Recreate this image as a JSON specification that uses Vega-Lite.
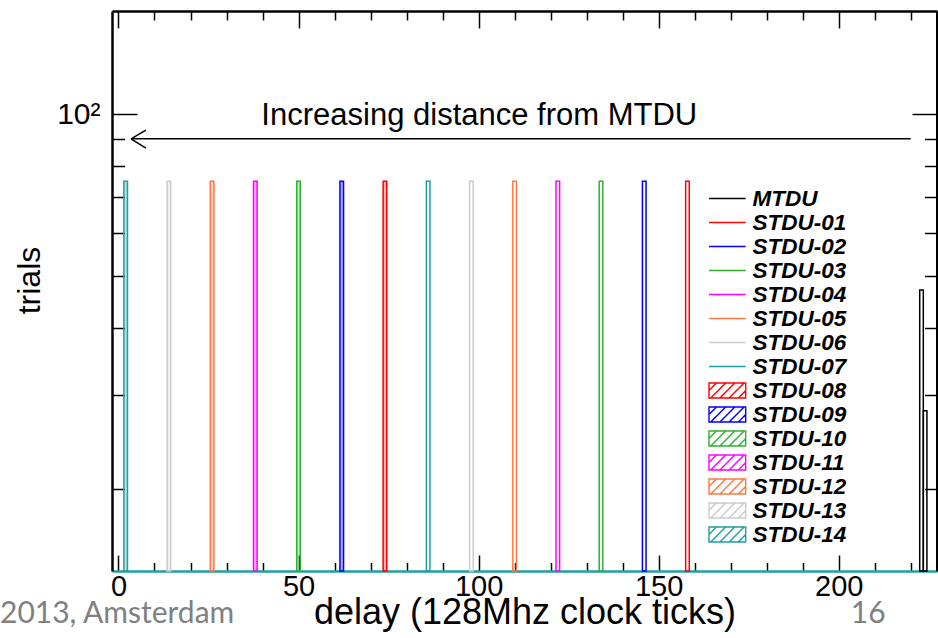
{
  "$schema": "https://vega.github.io/schema/vega-lite/v6.json",
  "width": 825,
  "height": 560,
  "autosize": "none",
  "padding": {"left": 112, "top": 11, "right": 1, "bottom": 67},
  "background": "white",
  "config": {
    "view": {"stroke": null},
    "font": "Liberation Sans",
    "axis": {"labelFont": "Liberation Sans", "titleFont": "Liberation Sans", "labelColor": "black", "titleColor": "black", "titleFontWeight": "normal", "grid": false, "tickColor": "black", "tickWidth": 1.5, "labelFlush": false, "labelOverlap": false}
  },
  "datasets": {
    "hist": [
      {"series": "MTDU", "start": 222.5, "end": 223.5, "trials": 47},
      {"series": "MTDU", "start": 223.5, "end": 224.5, "trials": 28},
      {"series": "STDU-01", "start": 157.5, "end": 158.5, "trials": 75},
      {"series": "STDU-02", "start": 145.5, "end": 146.5, "trials": 75},
      {"series": "STDU-03", "start": 133.5, "end": 134.5, "trials": 75},
      {"series": "STDU-04", "start": 121.5, "end": 122.5, "trials": 75},
      {"series": "STDU-05", "start": 109.5, "end": 110.5, "trials": 75},
      {"series": "STDU-06", "start": 97.5, "end": 98.5, "trials": 75},
      {"series": "STDU-07", "start": 85.5, "end": 86.5, "trials": 75},
      {"series": "STDU-08", "start": 73.5, "end": 74.5, "trials": 75},
      {"series": "STDU-09", "start": 61.5, "end": 62.5, "trials": 75},
      {"series": "STDU-10", "start": 49.5, "end": 50.5, "trials": 75},
      {"series": "STDU-11", "start": 37.5, "end": 38.5, "trials": 75},
      {"series": "STDU-12", "start": 25.5, "end": 26.5, "trials": 75},
      {"series": "STDU-13", "start": 13.5, "end": 14.5, "trials": 75},
      {"series": "STDU-14", "start": 1.5, "end": 2.5, "trials": 75}
    ]
  },
  "layer": [
    {
      "data": {"name": "hist"},
      "mark": {"type": "rect", "strokeWidth": 1.5},
      "encoding": {
        "x": {"field": "start", "type": "quantitative", "scale": {"domain": [-1.8, 227.3], "nice": false, "zero": false},
          "axis": {"orient": "bottom", "values": [0,10,20,30,40,50,60,70,80,90,100,110,120,130,140,150,160,170,180,190,200,210,220],
            "labelExpr": "datum.value % 50 === 0 ? datum.label : ''",
            "tickSize": {"condition": {"test": "datum.value % 50 === 0", "value": -16}, "value": -8.5},
            "domainColor": "#1f9f9f", "domainWidth": 2.5, "labelFontSize": 29, "labelPadding": 17,
            "title": "delay (128Mhz clock ticks)", "titleFontSize": 36, "titlePadding": -13}},
        "x2": {"field": "end"},
        "y": {"field": "trials", "type": "quantitative", "scale": {"type": "log", "domain": [14.07, 155.8], "nice": false},
          "axis": {"orient": "left", "values": [20,30,40,50,60,70,80,90,100],
            "labelExpr": "datum.value === 100 ? '10²' : ''",
            "tickSize": {"condition": {"test": "datum.value === 100", "value": -25}, "value": -12.5},
            "domainColor": "black", "domainWidth": 2.5, "labelFontSize": 30, "labelPadding": 37,
            "title": "trials", "titleFontSize": 32, "titlePadding": 10, "titleY": 269}},
        "y2": {"datum": 14.07},
        "stroke": {"field": "series", "type": "nominal",
          "scale": {"domain": ["MTDU","STDU-01","STDU-02","STDU-03","STDU-04","STDU-05","STDU-06","STDU-07","STDU-08","STDU-09","STDU-10","STDU-11","STDU-12","STDU-13","STDU-14"],
            "range": ["#000000","#ff0000","#0000ff","#30b030","#ff00ff","#ff7744","#cccccc","#1f9f9f","#ff0000","#0000ff","#30b030","#ff00ff","#ff7744","#cccccc","#1f9f9f"]},
          "legend": {"orient": "none", "legendX": 596, "legendY": 175, "title": null, "padding": 0, "rowPadding": 0,
            "symbolSize": 529, "symbolStrokeWidth": 1.5, "symbolFillColor": "transparent",
            "labelFont": "Liberation Sans", "labelFontSize": 22.5, "labelFontWeight": "bold", "labelFontStyle": "italic", "labelColor": "black", "labelOffset": 19.5,
            "encode": {"symbols": {"update": {
              "size": {"value": 529},
              "opacity": {"value": 1},
              "fill": {"value": "transparent"},
              "strokeOpacity": {"value": 1},
              "strokeWidth": {"value": 1.4},
              "shape": {"signal": "datum.value >= 'STDU-08' ? 'M-1,-0.65H2.19V0.65H-1Z M-1,0L-0.35,-0.65 M-0.85,0.65L0.45,-0.65 M-0.05,0.65L1.25,-0.65 M0.75,0.65L2.05,-0.65 M1.55,0.65L2.19,0.01' : 'M-1,0H2.19'"}
            }}}}},
        "fill": {"field": "series", "type": "nominal",
          "scale": {"domain": ["STDU-08","STDU-09","STDU-10","STDU-11","STDU-12","STDU-13","STDU-14"],
            "range": ["#ff0000","#0000ff","#30b030","#ff00ff","#ff7744","#cccccc","#1f9f9f"], "unknown": "transparent"},
          "legend": null},
        "fillOpacity": {"condition": {"test": "datum.series >= 'STDU-08'", "value": 0.3}, "value": 0}
      }
    },
    {
      "data": {"values": [{}]},
      "mark": {"type": "text", "text": "Increasing distance from MTDU", "fontSize": 31, "font": "Liberation Sans", "align": "center", "baseline": "alphabetic", "color": "black"},
      "encoding": {
        "x": {"datum": 100.2, "type": "quantitative", "scale": {"domain": [-1.8, 227.3], "nice": false, "zero": false},
          "axis": {"orient": "top", "values": [0,10,20,30,40,50,60,70,80,90,100,110,120,130,140,150,160,170,180,190,200,210,220],
            "labels": false, "title": null,
            "tickSize": {"condition": {"test": "datum.value % 50 === 0", "value": -17}, "value": -9},
            "domainColor": "black", "domainWidth": 2.5}},
        "y": {"datum": 95.5, "type": "quantitative", "scale": {"type": "log", "domain": [14.07, 155.8], "nice": false},
          "axis": {"orient": "right", "values": [20,30,40,50,60,70,80,90,100],
            "labels": false, "title": null,
            "tickSize": {"condition": {"test": "datum.value === 100", "value": -25}, "value": -12.5},
            "domainColor": "black", "domainWidth": 3}}
      }
    },
    {
      "data": {"values": [{}]},
      "mark": {"type": "rule", "color": "black", "strokeWidth": 1.5},
      "encoding": {
        "x": {"datum": 3.5, "type": "quantitative", "scale": {"domain": [-1.8, 227.3], "nice": false, "zero": false}, "axis": null},
        "x2": {"datum": 220},
        "y": {"datum": 90, "type": "quantitative", "scale": {"type": "log", "domain": [14.07, 155.8], "nice": false}, "axis": null}
      }
    },
    {
      "data": {"values": [{}]},
      "mark": {"type": "rule", "color": "black", "strokeWidth": 1.5},
      "encoding": {
        "x": {"datum": 3.5, "type": "quantitative", "scale": {"domain": [-1.8, 227.3], "nice": false, "zero": false}, "axis": null},
        "x2": {"datum": 7.6},
        "y": {"datum": 90, "type": "quantitative", "scale": {"type": "log", "domain": [14.07, 155.8], "nice": false}, "axis": null},
        "y2": {"datum": 93.4}
      }
    },
    {
      "data": {"values": [{}]},
      "mark": {"type": "rule", "color": "black", "strokeWidth": 1.5},
      "encoding": {
        "x": {"datum": 3.5, "type": "quantitative", "scale": {"domain": [-1.8, 227.3], "nice": false, "zero": false}, "axis": null},
        "x2": {"datum": 7.6},
        "y": {"datum": 90, "type": "quantitative", "scale": {"type": "log", "domain": [14.07, 155.8], "nice": false}, "axis": null},
        "y2": {"datum": 86.5}
      }
    },
    {
      "data": {"values": [{}]},
      "mark": {"type": "text", "text": "2013, Amsterdam", "fontSize": 30, "font": "Lato", "align": "left", "baseline": "middle", "color": "#808080"},
      "encoding": {
        "x": {"datum": -32.9, "type": "quantitative", "scale": {"domain": [-1.8, 227.3], "nice": false, "zero": false}, "axis": null},
        "y": {"datum": 11.7, "type": "quantitative", "scale": {"type": "log", "domain": [14.07, 155.8], "nice": false}, "axis": null}
      }
    },
    {
      "data": {"values": [{}]},
      "mark": {"type": "text", "text": "16", "fontSize": 30, "font": "Lato", "align": "center", "baseline": "middle", "color": "#808080"},
      "encoding": {
        "x": {"datum": 208.2, "type": "quantitative", "scale": {"domain": [-1.8, 227.3], "nice": false, "zero": false}, "axis": null},
        "y": {"datum": 11.7, "type": "quantitative", "scale": {"type": "log", "domain": [14.07, 155.8], "nice": false}, "axis": null}
      }
    }
  ],
  "resolve": {"axis": {"x": "independent", "y": "independent"}}
}
